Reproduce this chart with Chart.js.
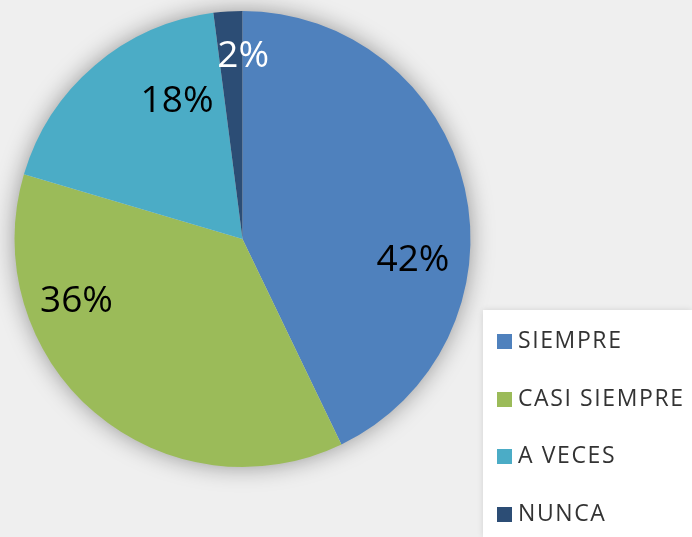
<!DOCTYPE html>
<html>
<head>
<meta charset="utf-8">
<script src="https://cdn.jsdelivr.net/npm/chart.js@4.4.1/dist/chart.umd.min.js"></script>
<style>
    html, body { margin: 0; padding: 0; background: #efefef; }
    #wrap { position: relative; width: 692px; height: 537px; }
    #legend {
        position: absolute; left: 483px; top: 310px; width: 209px; height: 227px;
        background: #ffffff; box-shadow: 0 0 6px rgba(0, 0, 0, 0.12);
        font-family: "Open Sans", sans-serif; font-size: 23px; color: #333333;
        letter-spacing: 1.6px;
    }
    .row { position: absolute; left: 14px; height: 24px; line-height: 24px; white-space: nowrap; }
    .box { display: inline-block; width: 15px; height: 15px; margin-right: 6px; vertical-align: -1px; }
</style>
</head>
<body>
<div id="wrap">
    <canvas id="pie" width="692" height="537"></canvas>
    <div id="legend"></div>
</div>
<script>
const categories = ["SIEMPRE", "CASI SIEMPRE", "A VECES", "NUNCA"];
const counts = [21, 18, 9, 1];
const pctLabels = ["42%", "36%", "18%", "2%"];
const colors = ["#4f81bd", "#9bbb59", "#4bacc6", "#2c4d75"];
const labelColors = ["#000000", "#000000", "#000000", "#ffffff"];

// where each label sits: angle offset from slice middle (deg) and radius fraction
const labelPlace = [
    { turn: 19.6, r: 0.753 },
    { turn: 29.2, r: 0.777 },
    { turn: 15.2, r: 0.674 },
    { turn: 3.9, r: 0.807 },
];

// soft shadow under the whole pie
const pieShadow = {
    id: "pieShadow",
    beforeDatasetsDraw(chart) {
        const arc = chart.getDatasetMeta(0).data[0];
        if (!arc) return;
        const ctx = chart.ctx;
        ctx.save();
        ctx.shadowColor = "rgba(0, 0, 0, 0.4)";
        ctx.shadowBlur = 24;
        ctx.fillStyle = "#dcdcdc";
        ctx.beginPath();
        ctx.arc(arc.x, arc.y, arc.outerRadius - 1, 0, Math.PI * 2);
        ctx.fill();
        ctx.restore();
    },
};

const sliceLabels = {
    id: "sliceLabels",
    afterDatasetsDraw(chart) {
        const ctx = chart.ctx;
        const arcs = chart.getDatasetMeta(0).data;
        ctx.save();
        ctx.font = "37px 'Open Sans'";
        ctx.textAlign = "center";
        ctx.textBaseline = "middle";
        arcs.forEach((arc, i) => {
            const mid = (arc.startAngle + arc.endAngle) / 2 + labelPlace[i].turn * Math.PI / 180;
            const r = arc.outerRadius * labelPlace[i].r;
            ctx.fillStyle = labelColors[i];
            ctx.fillText(pctLabels[i], arc.x + Math.cos(mid) * r, arc.y + Math.sin(mid) * r + 1);
        });
        ctx.restore();
    },
};

new Chart(document.getElementById("pie"), {
    type: "pie",
    data: {
        labels: categories,
        datasets: [
            {
                data: counts,
                backgroundColor: colors,
                borderWidth: 0,
            },
        ],
    },
    options: {
        responsive: false,
        animation: false,
        layout: { padding: { left: 14, top: 11, right: 221, bottom: 70 } },
        plugins: {
            legend: { display: false },
            tooltip: { enabled: false },
        },
    },
    plugins: [pieShadow, sliceLabels],
});

const legend = document.getElementById("legend");
categories.forEach((name, i) => {
    const row = document.createElement("div");
    row.className = "row";
    row.style.top = (17 + i * 57.6) + "px";
    row.innerHTML = `<span class="box" style="background:${colors[i]}"></span>${name}`;
    legend.appendChild(row);
});
</script>
</body>
</html>
